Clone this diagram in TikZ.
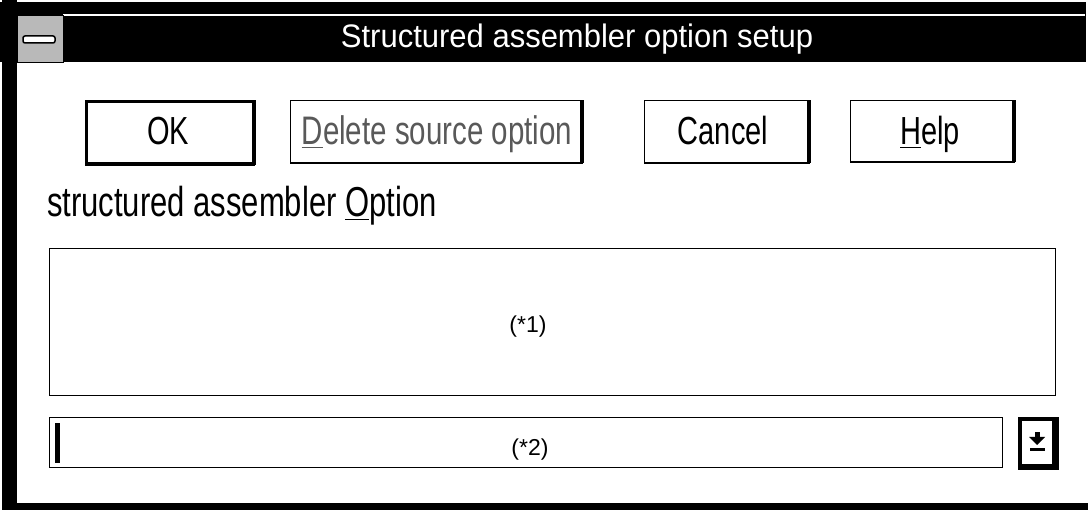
\documentclass[tikz,border=0pt]{standalone}
\usepackage{fontspec}
\setmainfont{Liberation Sans}
\usepackage{graphicx}
\newcommand\bt[1]{\scalebox{1}[1.35]{#1}}
\begin{document}
\begin{tikzpicture}[x=1pt,y=-1pt,
  btn/.style={draw=black,line width=1.6pt,fill=white,inner sep=0pt},
  btntext/.style={anchor=base,inner sep=0pt,font=\fontsize{29}{29}\selectfont},
  field/.style={draw=black,line width=1.8pt,fill=white,inner sep=0pt},
  small/.style={font=\fontsize{23}{23}\selectfont,inner sep=0pt}
]
\useasboundingbox[fill=white] (0,0) rectangle (1088,510);
% frame and title bar
\fill[black] (0,2) rectangle (1086,62);
\draw[white,line width=1.2pt] (63,15) -- (1085,15);
\fill[black] (2,0) rectangle (17,510);
\fill[black] (2,503) rectangle (1088,510);
\node[draw=black,fill=gray!55,minimum width=46,minimum height=47,inner sep=0pt] (sys) at (40,38.5) {};
\node[draw=black,line width=1.5pt,fill=white,rounded corners=2pt,minimum width=32,minimum height=7,inner sep=0pt] (sysbar) at (39,39.5) {};
\node[text=white,font=\fontsize{31}{31}\selectfont,anchor=base,inner sep=0pt] (title) at (577,48) {\scalebox{1}[1.05]{Structured assembler option setup}};
% buttons
\node[btn,line width=3pt,minimum width=167,minimum height=62] (ok) at (170,132.5) {};
\node[btn,minimum width=292,minimum height=62] (del) at (436.5,131.5) {};
\node[btn,minimum width=165,minimum height=62] (cancel) at (727,131.5) {};
\node[btn,minimum width=164,minimum height=61] (help) at (932.5,131) {};
\foreach \b in {ok,del,cancel,help}{
  \fill[black] ([xshift=-3pt]\b.north east) rectangle ([xshift=1pt]\b.south east);
  \fill[black] ([yshift=-1pt]\b.south west) rectangle ([yshift=1.5pt]\b.south east);
}
\node[btntext] (okt) at (168,145) {\bt{OK}};
\node[btntext,text=black!65,font=\fontsize{29.5}{29.5}\selectfont] (delt) at (437,145) {\bt{\underline{D}elete source option}};
\node[btntext] (cancelt) at (723,145) {\bt{Cancel}};
\node[btntext] (helpt) at (930,145) {\bt{\underline{H}elp}};
% label
\node[anchor=base west,inner sep=0pt,font=\fontsize{31}{31}\selectfont] (lbl) at (47,217) {\bt{structured assembler \underline{O}ption}};
% option list box
\node[field,minimum width=1006,minimum height=147] (opt) at (552.5,322) {};
\node[small] (t1) at (528,327) {(*1)};
% combo box
\node[field,minimum width=953,minimum height=50] (combo) at (526,442.5) {};
\node[small] (t2) at (530,450) {(*2)};
\fill[black] (55,423) rectangle (60,463);
% drop-down button
\node[draw=black,line width=4pt,fill=white,minimum width=34,minimum height=47,inner sep=0pt] (dd) at (1037,442.5) {};
\fill[black] ([xshift=-2pt]dd.north east) rectangle ([xshift=3pt]dd.south east);
\fill[black] ([yshift=-2pt]dd.south west) rectangle ([yshift=3pt,xshift=3pt]dd.south east);
\fill[black] (1034.5,432) rectangle (1039.5,438);
\fill[black] (1029,437) -- (1045,437) -- (1037,445) -- cycle;
\fill[black] (1030,448) rectangle (1045,451);
\end{tikzpicture}
\end{document}
